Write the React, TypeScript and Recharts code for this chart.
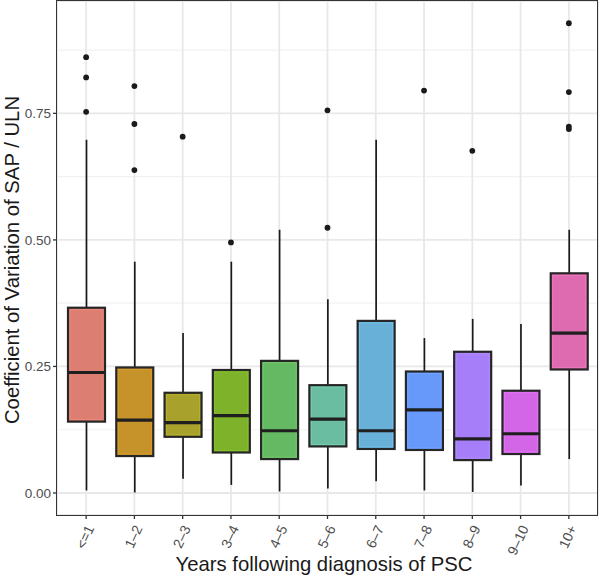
import React from "react";
import {
  ComposedChart,
  Bar,
  Line,
  XAxis,
  YAxis,
  CartesianGrid,
  Label,
} from "recharts";

const categories = ["<=1", "1–2", "2–3", "3–4", "4–5", "5–6", "6–7", "7–8", "8–9", "9–10", "10+"];
const lows = [0.005, 0.001, 0.028, 0.016, 0.003, 0.009, 0.023, 0.005, 0.002, 0.015, 0.067];
const q1s = [0.141, 0.073, 0.111, 0.08, 0.067, 0.092, 0.087, 0.085, 0.065, 0.077, 0.244];
const medians = [0.238, 0.144, 0.139, 0.153, 0.123, 0.146, 0.123, 0.164, 0.107, 0.117, 0.316];
const q3s = [0.366, 0.248, 0.198, 0.243, 0.261, 0.213, 0.34, 0.24, 0.279, 0.202, 0.434];
const highs = [0.698, 0.457, 0.316, 0.457, 0.52, 0.383, 0.698, 0.306, 0.344, 0.334, 0.52];
const outliers = [
  [0.861, 0.821, 0.753],
  [0.804, 0.729, 0.638],
  [0.704],
  [0.495],
  [],
  [0.756, 0.524],
  [],
  [0.795],
  [0.676],
  [],
  [0.928, 0.792, 0.724, 0.719],
];
const fills = [
  "#DC7E71", "#C6922A", "#A8A22C", "#7DB22A", "#66B963", "#6BBDA1",
  "#68B0D8", "#6699FA", "#A77EFA", "#D366E6", "#DE6BB0",
];
const innerLines = [
  "#F08A7E", "#DB9E2E", "#BAB22F", "#8AC42F", "#72CC6C", "#77D0B2",
  "#74C3EE", "#74A8FF", "#B58DFF", "#E872FC", "#F276C2",
];
const yTicks = [0, 0.25, 0.5, 0.75];
const minorTicks = [0.125, 0.375, 0.625, 0.875];

const data = categories.map((name, i) => ({
  name,
  low: lows[i],
  q1: q1s[i],
  median: medians[i],
  q3: q3s[i],
  high: highs[i],
  fill: fills[i],
  inner: innerLines[i],
  o0: outliers[i][0] ?? null,
  o1: outliers[i][1] ?? null,
  o2: outliers[i][2] ?? null,
  o3: outliers[i][3] ?? null,
}));

const FONT = "'Liberation Sans', Arial, sans-serif";

function BoxShape(props: any) {
  const { x, y, width, height, payload } = props;
  if (x == null || y == null) return null;
  const top = Math.min(y, y + height);
  const bot = Math.max(y, y + height);
  const { low, high, q1, median, q3, fill, inner } = payload;
  const py = (v: number) => bot - ((bot - top) * (v - low)) / (high - low);
  const cx = x + width / 2;
  return (
    <g>
      <line x1={cx} x2={cx} y1={py(high)} y2={py(q3)} stroke="#1a1a1a" strokeWidth={1.7} />
      <line x1={cx} x2={cx} y1={py(q1)} y2={py(low)} stroke="#1a1a1a" strokeWidth={1.7} />
      <rect
        x={x}
        y={py(q3)}
        width={width}
        height={py(q1) - py(q3)}
        fill={fill}
        stroke="#262626"
        strokeWidth={2.2}
      />
      <rect
        x={x + 2}
        y={py(q3) + 2}
        width={width - 4}
        height={py(q1) - py(q3) - 4}
        fill="none"
        stroke={inner}
        strokeWidth={0.8}
      />
      <line x1={x} x2={x + width} y1={py(median)} y2={py(median)} stroke="#1f1f1f" strokeWidth={3.2} />
    </g>
  );
}

function OutlierDot(props: any) {
  const { cx, cy, index, dataKey } = props;
  if (cy == null || isNaN(cy) || props.value == null) return <g key={`${dataKey}-${index}`} />;
  return <circle key={`${dataKey}-${index}`} cx={cx} cy={cy} r={2.9} fill="#1a1a1a" />;
}

function XTick(props: any) {
  const { x, y, payload } = props;
  return (
    <g transform={`translate(${x + 4},${y + 5})`}>
      <text
        x={0}
        y={0}
        dy="0.35em"
        textAnchor="end"
        transform="rotate(-65)"
        fontSize={14}
        fill="#4d4d4d"
        fontFamily={FONT}
      >
        {payload.value}
      </text>
    </g>
  );
}

export default function App() {
  return (
    <div style={{ position: "absolute", left: 0, top: 0, width: 600, height: 578, background: "#fff" }}>
      <ComposedChart
        width={600}
        height={578}
        data={data}
        margin={{ top: 1, right: 2, left: 0, bottom: 0 }}
      >
        <CartesianGrid stroke="#F2F2F2" strokeWidth={1.1} vertical={false} horizontalValues={minorTicks} />
        <CartesianGrid stroke="#E8E8E8" strokeWidth={1.8} />
        <XAxis
          dataKey="name"
          type="category"
          interval={0}
          padding={{ left: 5, right: 5 }}
          height={63}
          axisLine={false}
          tickLine={{ stroke: "#333", strokeWidth: 1.3 }}
          tickSize={4}
          tick={<XTick />}
        >
          <Label
            content={() => (
              <text x={324} y={571} textAnchor="middle" fontSize={20.3} fill="#1a1a1a" fontFamily={FONT}>
                Years following diagnosis of PSC
              </text>
            )}
          />
        </XAxis>
        <YAxis
          type="number"
          width={57}
          domain={[-0.0435, 0.972]}
          allowDataOverflow
          ticks={yTicks}
          tickFormatter={(v: number) => v.toFixed(2)}
          axisLine={false}
          tickLine={{ stroke: "#333", strokeWidth: 1.3 }}
          tickSize={4}
          tick={{ fontSize: 13.5, fill: "#4d4d4d", fontFamily: FONT }}
        >
          <Label
            content={() => (
              <text
                x={19}
                y={260}
                textAnchor="middle"
                fontSize={20.3}
                fill="#1a1a1a"
                fontFamily={FONT}
                transform="rotate(-90 19 260)"
              >
                Coefficient of Variation of SAP / ULN
              </text>
            )}
          />
        </YAxis>
        <Bar
          dataKey={(d: any) => [d.low, d.high]}
          barSize={37}
          shape={<BoxShape />}
          isAnimationActive={false}
        />
        {["o0", "o1", "o2", "o3"].map((k) => (
          <Line
            key={k}
            dataKey={k}
            stroke="none"
            dot={<OutlierDot />}
            activeDot={false}
            isAnimationActive={false}
          />
        ))}
      </ComposedChart>
      <div
        style={{
          position: "absolute",
          left: 56,
          top: 0,
          width: 542,
          height: 516,
          border: "1.6px solid #333",
          boxSizing: "border-box",
          pointerEvents: "none",
        }}
      />
    </div>
  );
}
